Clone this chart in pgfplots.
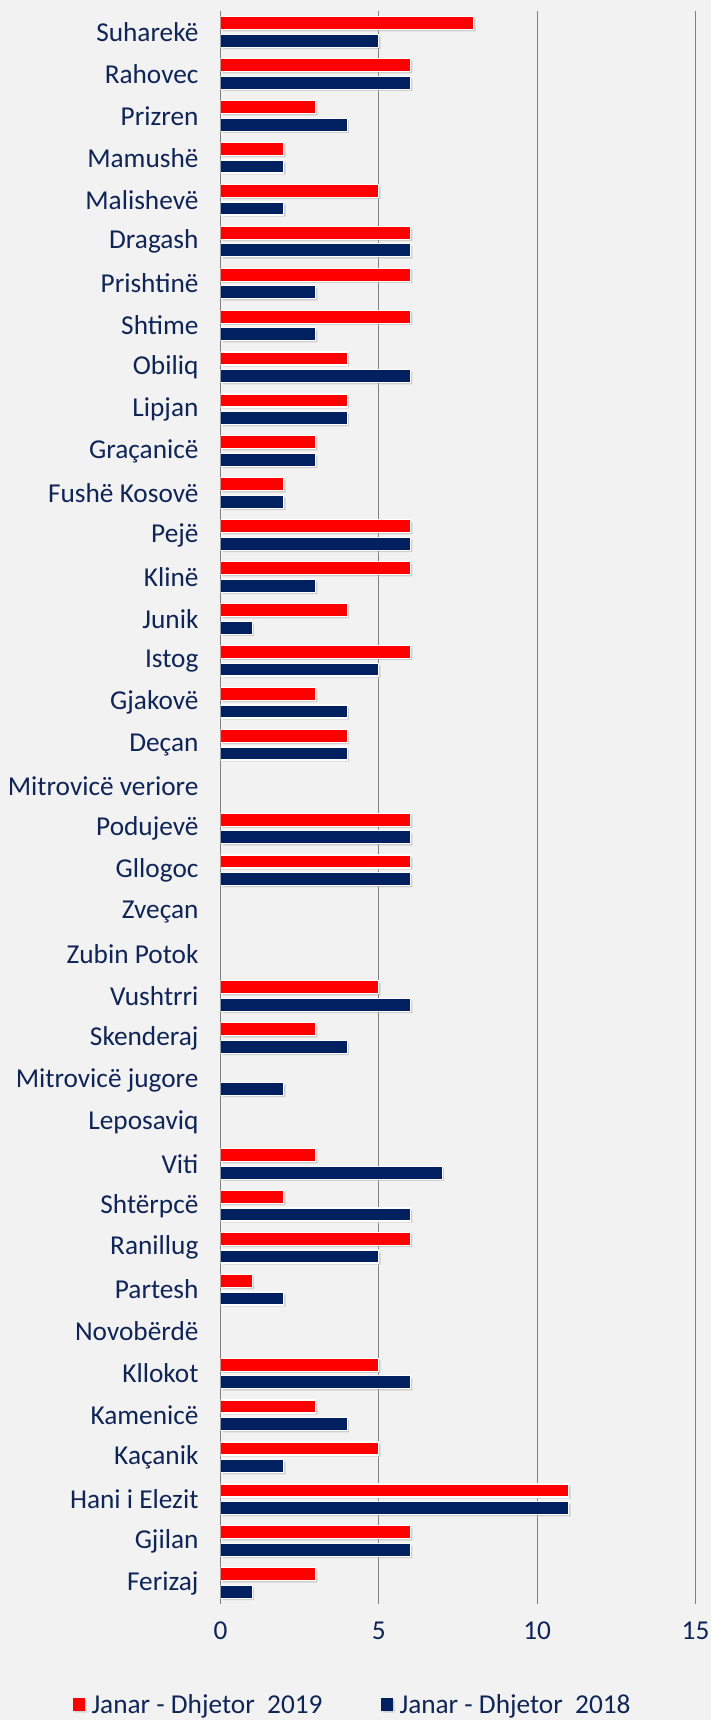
\documentclass[border=0pt]{standalone}
\usepackage{fontspec}
\setmainfont{Carlito}
\usepackage{pgfplots}
\pgfplotsset{compat=1.18}
\usetikzlibrary{shadows}
\definecolor{bg}{HTML}{F2F2F2}
\definecolor{navy}{HTML}{002060}
\definecolor{txt}{HTML}{0F2557}
\definecolor{grd}{HTML}{808080}
\begin{document}
\begin{tikzpicture}[x=1pt,y=1pt]
\fill[bg] (0,0) rectangle (711,1720);
\begin{axis}[
 at={(220.5pt,116pt)}, anchor=south west,
 scale only axis, width=475pt, height=1593pt,
 xmin=0, xmax=15, ymin=-0.5, ymax=37.5, y dir=reverse,
 xtick={0,5,10,15}, ytick={0,...,37},
 yticklabels={Suharekë,Rahovec,Prizren,Mamushë,Malishevë,Dragash,Prishtinë,Shtime,Obiliq,Lipjan,Graçanicë,Fushë Kosovë,Pejë,Klinë,Junik,Istog,Gjakovë,Deçan,Mitrovicë veriore,Podujevë,Gllogoc,Zveçan,Zubin Potok,Vushtrri,Skenderaj,Mitrovicë jugore,Leposaviq,Viti,Shtërpcë,Ranillug,Partesh,Novobërdë,Kllokot,Kamenicë,Kaçanik,Hani i Elezit,Gjilan,Ferizaj},
 xmajorgrids, grid style={grd, line width=1.2pt},
 axis line style={draw=none},
 major tick length=0pt,
 tick label style={font=\fontsize{27.3}{31}\selectfont, text=txt},
 /pgf/number format/assume math mode=true,
 yticklabel style={xshift=-18.5pt},
 xticklabel style={yshift=-14pt},
 xbar, bar width=0.31,
 legend style={at={(axis description cs:0.278,-0.063)}, anchor=center, draw=none, fill=none, legend columns=2, font=\fontsize{27.3}{31}\selectfont, text=txt,
   /tikz/every odd column/.append style={column sep=5pt},
   /tikz/every even column/.append style={column sep=56pt}},
 legend image code/.code={\fill[#1, draw=none] (0pt,-6.5pt) rectangle (12pt,6.5pt);},
]
\addplot[fill=red, draw=white, line width=1.2pt, bar shift=-0.21, drop shadow={shadow xshift=2pt,shadow yshift=-2pt,opacity=0.3}] coordinates {
(8,0) (6,1) (3,2) (2,3) (5,4) (6,5) (6,6) (6,7) (4,8) (4,9) (3,10) (2,11) (6,12) (6,13) (4,14) (6,15) (3,16) (4,17)
(6,19) (6,20) (5,23) (3,24) (3,27) (2,28) (6,29) (1,30) (5,32) (3,33) (5,34) (11,35) (6,36) (3,37)};
\addlegendentry{Janar - Dhjetor\ \ 2019}
\addplot[fill=navy, draw=white, line width=1.2pt, bar shift=0.21, drop shadow={shadow xshift=2pt,shadow yshift=-2pt,opacity=0.3}] coordinates {
(5,0) (6,1) (4,2) (2,3) (2,4) (6,5) (3,6) (3,7) (6,8) (4,9) (3,10) (2,11) (6,12) (3,13) (1,14) (5,15) (4,16) (4,17)
(6,19) (6,20) (6,23) (4,24) (2,25) (7,27) (6,28) (5,29) (2,30) (6,32) (4,33) (2,34) (11,35) (6,36) (1,37)};
\addlegendentry{Janar - Dhjetor\ \ 2018}
\end{axis}
\end{tikzpicture}
\end{document}
